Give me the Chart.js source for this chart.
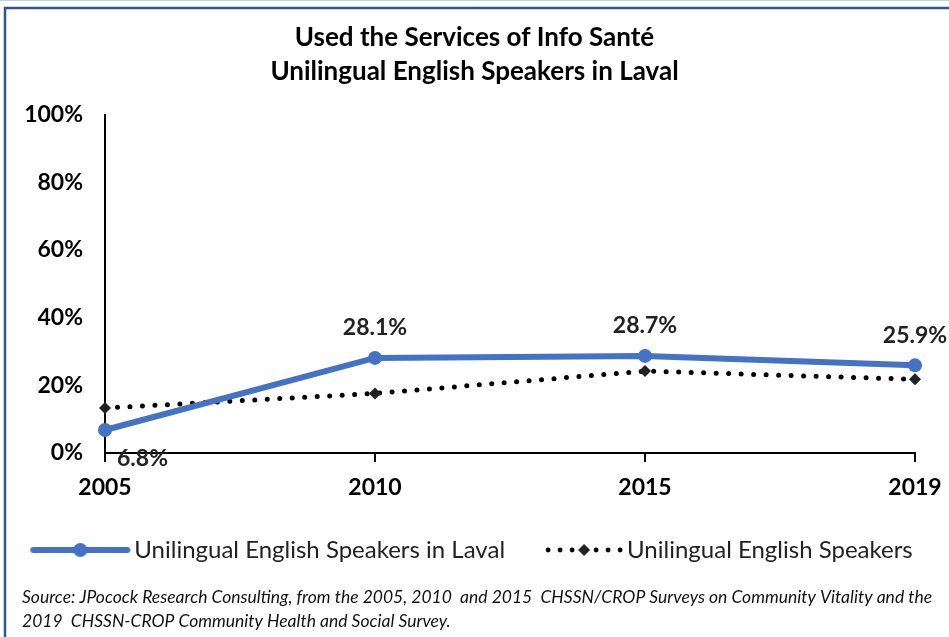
<!DOCTYPE html>
<html>
<head>
<meta charset="utf-8">
<script src="https://cdn.jsdelivr.net/npm/chart.js@4"></script>
<style>
  html, body { margin: 0; padding: 0; background: #fff; }
  #wrap { width: 949px; height: 637px; position: relative; }
</style>
</head>
<body>
<div id="wrap"><canvas id="myChart" width="949" height="637"></canvas></div>
<script>
// 데이터
var years = ['2005', '2010', '2015', '2019'];
var lavalValues = [6.8, 28.1, 28.7, 25.9];
var englishValues = [13.3, 17.6, 24.2, 21.8];
var yTicks = [0, 20, 40, 60, 80, 100];
var seriesNames = ['Unilingual English Speakers in Laval', 'Unilingual English Speakers'];
var titleLines = ['Used the Services of Info Santé', 'Unilingual English Speakers in Laval'];
var sourceLines = [
  'Source: JPocock Research Consulting, from the 2005, 2010  and 2015  CHSSN/CROP Surveys on Community Vitality and the',
  '2019  CHSSN-CROP Community Health and Social Survey.'
];

var FONT = 'Lato, "Open Sans", sans-serif';
var BLUE = '#4472c4';

Chart.defaults.font.family = FONT;
Chart.defaults.color = '#000';

// 범례 아이콘 (선 + 마커), 104px 폭
function legendIcon(kind) {
  var c = document.createElement('canvas');
  c.width = 104; c.height = 16;
  var g = c.getContext('2d');
  if (kind === 'blue') {
    g.strokeStyle = BLUE; g.lineWidth = 6; g.lineCap = 'round';
    g.beginPath(); g.moveTo(6, 8); g.lineTo(100, 8); g.stroke();
    g.fillStyle = BLUE;
    g.beginPath(); g.arc(53, 8, 7, 0, Math.PI * 2); g.fill();
  } else {
    g.fillStyle = '#000';
    [28, 40, 52, 76, 88, 100].forEach(function (x) {
      g.beginPath(); g.arc(x, 8, 2.4, 0, Math.PI * 2); g.fill();
    });
    g.fillStyle = '#222';
    g.beginPath(); g.moveTo(64, 2); g.lineTo(70, 8); g.lineTo(64, 14); g.lineTo(58, 8); g.closePath(); g.fill();
  }
  return c;
}

var extras = {
  id: 'extras',
  beforeDraw: function (chart) {
    var ctx = chart.ctx;
    ctx.save();
    ctx.fillStyle = '#fff';
    ctx.fillRect(0, 0, chart.width, chart.height);
    ctx.strokeStyle = '#c5d0e6'; ctx.lineWidth = 1;
    ctx.beginPath(); ctx.moveTo(0, 0.5); ctx.lineTo(chart.width, 0.5); ctx.stroke();
    ctx.strokeStyle = '#2f5597'; ctx.lineWidth = 2.5;
    ctx.beginPath(); ctx.moveTo(5, chart.height); ctx.lineTo(5, 8); ctx.lineTo(chart.width, 8); ctx.stroke();
    ctx.restore();
  },
  afterDatasetsDraw: function (chart) {
    var ctx = chart.ctx;
    var meta = chart.getDatasetMeta(0);
    ctx.save();
    ctx.font = 'bold 23px ' + FONT;
    ctx.fillStyle = '#222';
    ctx.textBaseline = 'middle';
    meta.data.forEach(function (pt, i) {
      var txt = lavalValues[i].toFixed(1) + '%';
      if (i === 0) {
        ctx.textAlign = 'left';
        ctx.fillText(txt, pt.x + 12, pt.y + 29);
      } else {
        ctx.textAlign = 'center';
        ctx.fillText(txt, pt.x, pt.y - 30);
      }
    });
    ctx.restore();
  },
  afterDraw: function (chart) {
    var ctx = chart.ctx;
    ctx.save();
    ctx.font = 'italic 17.5px ' + FONT;
    ctx.fillStyle = '#111';
    ctx.textAlign = 'left';
    ctx.textBaseline = 'middle';
    ctx.fillText(sourceLines[0], 22, 597, 913);
    ctx.fillText(sourceLines[1], 22, 621);
    ctx.restore();
  }
};

var ctx = document.getElementById('myChart').getContext('2d');

var myChart = new Chart(ctx, {
  type: 'line',
  data: {
    labels: years,
    datasets: [{
      label: seriesNames[0],
      data: lavalValues,
      borderColor: BLUE,
      backgroundColor: BLUE,
      borderWidth: 6,
      pointRadius: 7,
      pointHoverRadius: 7,
      pointStyle: 'circle',
      pointBackgroundColor: BLUE,
      pointBorderWidth: 0,
      order: 0
    }, {
      label: seriesNames[1],
      data: englishValues,
      borderColor: '#000',
      backgroundColor: '#000',
      borderWidth: 5,
      borderDash: [0, 12.5],
      borderCapStyle: 'round',
      pointStyle: 'rectRot',
      pointRadius: 6,
      pointHoverRadius: 6,
      pointBackgroundColor: '#222',
      pointBorderWidth: 0,
      order: 1
    }]
  },
  options: {
    responsive: false,
    animation: false,
    devicePixelRatio: 1,
    layout: { padding: { left: 10, right: 10, top: 19, bottom: 65 } },
    plugins: {
      title: {
        display: true,
        text: titleLines,
        color: '#000',
        font: { size: 26, weight: 'bold', lineHeight: 1.3 },
        padding: { top: 2, bottom: 26 }
      },
      legend: {
        position: 'bottom',
        labels: {
          usePointStyle: true,
          pointStyleWidth: 86,
          color: '#222',
          font: { size: 24 },
          padding: 24,
          generateLabels: function (chart) {
            return chart.data.datasets.map(function (ds, i) {
              return {
                text: ds.label,
                datasetIndex: i,
                pointStyle: legendIcon(i === 0 ? 'blue' : 'dots'),
                fillStyle: ds.borderColor,
                strokeStyle: ds.borderColor,
                lineWidth: 0,
                fontColor: '#222',
                hidden: false
              };
            });
          }
        }
      },
      tooltip: { enabled: false }
    },
    scales: {
      x: {
        type: 'category',
        offset: false,
        afterFit: function (axis) {
          axis.height = 61;
          axis.paddingLeft = 0;
          axis.paddingRight = 0;
        },
        grid: { drawOnChartArea: false, drawTicks: true, tickLength: 9, color: '#000', lineWidth: 2 },
        border: { display: true, color: '#000', width: 2 },
        ticks: { font: { size: 23, weight: 'bold' }, color: '#000', padding: 12, maxRotation: 0 }
      },
      y: {
        min: 0,
        max: 100,
        afterFit: function (axis) { axis.width = 95; },
        afterBuildTicks: function (axis) {
          axis.ticks = yTicks.map(function (v) { return { value: v }; });
        },
        grid: { display: false, drawTicks: false },
        border: { display: true, color: '#000', width: 2 },
        ticks: {
          font: { size: 23, weight: 'bold' },
          color: '#000',
          padding: 22,
          callback: function (v) { return v + '%'; }
        }
      },
      // 오른쪽 여백용 빈 축
      yRight: {
        position: 'right',
        min: 0,
        max: 100,
        afterFit: function (axis) { axis.width = 24; },
        grid: { display: false, drawTicks: false },
        border: { display: false },
        ticks: { display: false }
      }
    }
  },
  plugins: [extras]
});
</script>
</body>
</html>
